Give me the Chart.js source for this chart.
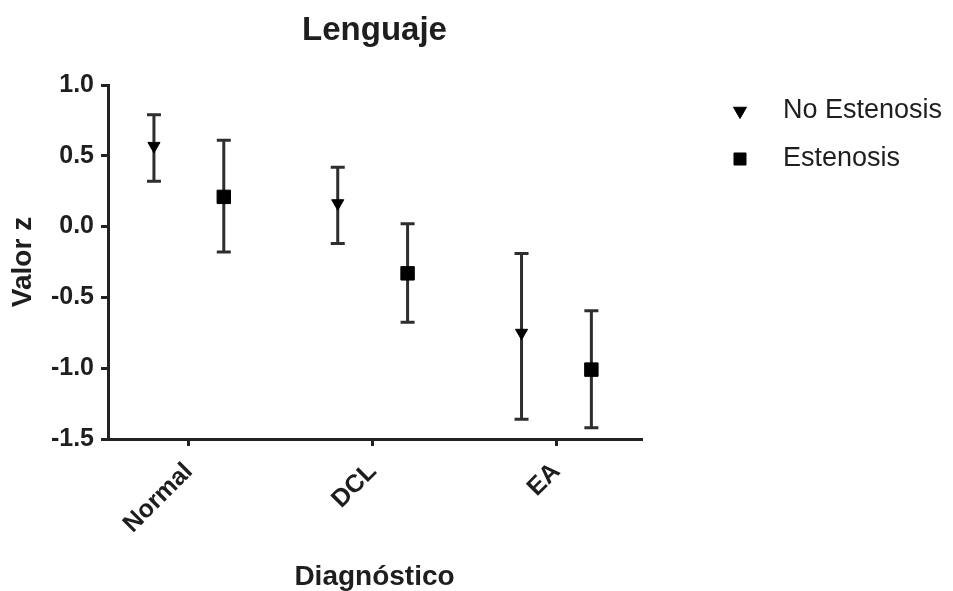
<!DOCTYPE html>
<html>
<head>
<meta charset="utf-8">
<script src="https://cdn.jsdelivr.net/npm/chart.js@4.4.1/dist/chart.umd.min.js"></script>
<style>
  html, body { margin: 0; padding: 0; background: #ffffff; }
  #wrap { width: 953px; height: 591px; }
</style>
</head>
<body>
<div id="wrap"><canvas id="c" width="953" height="591"></canvas></div>
<script>
// ---- data ----
const categories = ['Normal', 'DCL', 'EA'];
const seriesNames = ['No Estenosis', 'Estenosis'];
const noEstMean  = [0.57, 0.165, -0.75];
const noEstUpper = [0.79, 0.42, -0.19];
const noEstLower = [0.32, -0.12, -1.36];
const estMean    = [0.21, -0.33, -1.01];
const estUpper   = [0.61, 0.02, -0.595];
const estLower   = [-0.18, -0.675, -1.42];
const yTicks = [-1.5, -1.0, -0.5, 0.0, 0.5, 1.0];
const dodge = 0.19;

const FONT = "'Liberation Sans', Arial, Helvetica, sans-serif";
const INK = '#1e1e1e';

function buildPoints(mean, lower, upper, shift) {
  return categories.map((c, i) => ({ x: i + shift, y: mean[i], lo: lower[i], hi: upper[i] }));
}

const errorBars = {
  id: 'errorBars',
  beforeDatasetsDraw(chart) {
    const ctx = chart.ctx;
    const xs = chart.scales.x, ys = chart.scales.y;
    ctx.save();
    ctx.strokeStyle = '#2e2e2e';
    ctx.lineWidth = 3;
    ctx.lineCap = 'butt';
    chart.data.datasets.forEach(ds => {
      ds.data.forEach(p => {
        const px = xs.getPixelForValue(p.x);
        const top = ys.getPixelForValue(p.hi);
        const bot = ys.getPixelForValue(p.lo);
        const cw = 7;
        ctx.beginPath();
        ctx.moveTo(px, top); ctx.lineTo(px, bot);
        ctx.moveTo(px - cw, top); ctx.lineTo(px + cw, top);
        ctx.moveTo(px - cw, bot); ctx.lineTo(px + cw, bot);
        ctx.stroke();
      });
    });
    ctx.restore();
  }
};

const sideLegend = {
  id: 'sideLegend',
  afterDraw(chart) {
    const ctx = chart.ctx;
    const mx = 740, tx = 783, y0 = 111, step = 48;
    ctx.save();
    chart.data.datasets.forEach((ds, i) => {
      const y = y0 + i * step;
      ctx.fillStyle = '#000';
      ctx.strokeStyle = '#000';
      Chart.helpers.drawPoint(ctx, {
        pointStyle: ds.pointStyle,
        rotation: ds.pointRotation || 0,
        radius: ds.legendRadius,
        borderWidth: 1
      }, mx, y);
      ctx.fillStyle = INK;
      ctx.font = "27px " + FONT;
      ctx.textAlign = 'left';
      ctx.textBaseline = 'middle';
      ctx.fillText(ds.label, tx, y);
    });
    ctx.restore();
  }
};

new Chart(document.getElementById('c'), {
  type: 'scatter',
  data: {
    datasets: [
      {
        label: seriesNames[0],
        data: buildPoints(noEstMean, noEstLower, noEstUpper, -dodge),
        pointStyle: 'triangle',
        pointRotation: 180,
        pointRadius: 7,
        legendRadius: 7.5,
        backgroundColor: '#000',
        borderColor: '#000',
        borderWidth: 1
      },
      {
        label: seriesNames[1],
        data: buildPoints(estMean, estLower, estUpper, dodge),
        pointStyle: 'rect',
        pointRadius: 9.5,
        legendRadius: 8.5,
        backgroundColor: '#000',
        borderColor: '#000',
        borderWidth: 1
      }
    ]
  },
  options: {
    responsive: false,
    animation: false,
    layout: { padding: { left: 0, right: 312, top: 0, bottom: 0 } },
    plugins: {
      legend: { display: false },
      tooltip: { enabled: false },
      title: {
        display: true,
        text: 'Lenguaje',
        fullSize: false,
        color: INK,
        font: { family: FONT, size: 33, weight: 'bold', lineHeight: 1.2 },
        padding: { top: 11, bottom: 34.4 }
      }
    },
    scales: {
      x: {
        type: 'linear',
        min: -0.44,
        max: 2.46,
        afterBuildTicks(scale) { scale.ticks = categories.map((c, i) => ({ value: i })); },
        afterFit(scale) { scale.height = 152; },
        grid: { drawOnChartArea: false, drawTicks: true, tickLength: 7, color: '#222', lineWidth: 3 },
        border: { display: true, color: '#222', width: 3 },
        ticks: {
          autoSkip: false,
          minRotation: 45,
          maxRotation: 45,
          padding: 11,
          color: INK,
          font: { family: FONT, size: 25, weight: 'bold' },
          callback: (v) => categories[v]
        },
        title: {
          display: true,
          text: 'Diagnóstico',
          color: INK,
          font: { family: FONT, size: 28, weight: 'bold', lineHeight: 1.0 },
          padding: { top: 4, bottom: 0 }
        }
      },
      y: {
        min: -1.5,
        max: 1.0,
        afterBuildTicks(scale) { scale.ticks = yTicks.map(v => ({ value: v })); },
        afterFit(scale) { scale.width = 108; },
        grid: { drawOnChartArea: false, drawTicks: true, tickLength: 7, color: '#222', lineWidth: 3 },
        border: { display: true, color: '#222', width: 3 },
        ticks: {
          padding: 7,
          color: INK,
          font: { family: FONT, size: 25, weight: 'bold' },
          callback: (v) => Number(v).toFixed(1)
        },
        title: {
          display: true,
          text: 'Valor z',
          color: INK,
          font: { family: FONT, size: 28, weight: 'bold', lineHeight: 1.2 },
          padding: { top: 6, bottom: 0 }
        }
      }
    }
  },
  plugins: [errorBars, sideLegend]
});
</script>
</body>
</html>
